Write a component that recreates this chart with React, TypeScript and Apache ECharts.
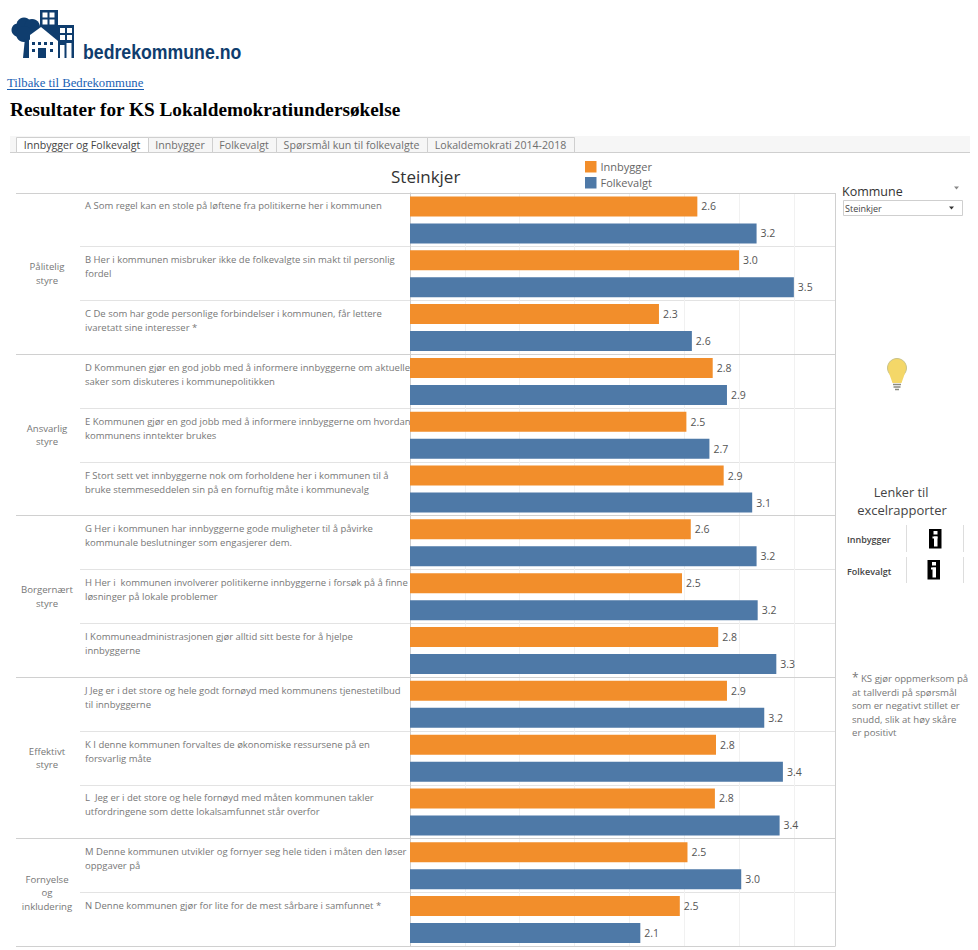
import React, { useEffect, useRef } from "react";
import * as echarts from "echarts";

const cityName = "Steinkjer";
const seriesNames = ["Innbygger", "Folkevalgt"];
const questions = [
  "A Som regel kan en stole på løftene fra politikerne her i kommunen",
  "B Her i kommunen misbruker ikke de folkevalgte sin makt til personlig\nfordel",
  "C De som har gode personlige forbindelser i kommunen, får lettere\nivaretatt sine interesser *",
  "D Kommunen gjør en god jobb med å informere innbyggerne om aktuelle\nsaker som diskuteres i kommunepolitikken",
  "E Kommunen gjør en god jobb med å informere innbyggerne om hvordan\nkommunens inntekter brukes",
  "F Stort sett vet innbyggerne nok om forholdene her i kommunen til å\nbruke stemmeseddelen sin på en fornuftig måte i kommunevalg",
  "G Her i kommunen har innbyggerne gode muligheter til å påvirke\nkommunale beslutninger som engasjerer dem.",
  "H Her i  kommunen involverer politikerne innbyggerne i forsøk på å finne\nløsninger på lokale problemer",
  "I Kommuneadministrasjonen gjør alltid sitt beste for å hjelpe\ninnbyggerne",
  "J Jeg er i det store og hele godt fornøyd med kommunens tjenestetilbud\ntil innbyggerne",
  "K I denne kommunen forvaltes de økonomiske ressursene på en\nforsvarlig måte",
  "L  Jeg er i det store og hele fornøyd med måten kommunen takler\nutfordringene som dette lokalsamfunnet står overfor",
  "M Denne kommunen utvikler og fornyer seg hele tiden i måten den løser\noppgaver på",
  "N Denne kommunen gjør for lite for de mest sårbare i samfunnet *",
];
const innbygger = [2.62, 3.0, 2.27, 2.76, 2.52, 2.86, 2.56, 2.48, 2.81, 2.89, 2.79, 2.78, 2.53, 2.46];
const folkevalgt = [3.16, 3.5, 2.57, 2.89, 2.73, 3.12, 3.16, 3.17, 3.34, 3.23, 3.4, 3.37, 3.02, 2.1];
const groupNames = ["Pålitelig\nstyre", "Ansvarlig\nstyre", "Borgernært\nstyre", "Effektivt\nstyre", "Fornyelse\nog\ninkludering"];
const groupSizes = [3, 3, 3, 3, 2];
const tabs = ["Innbygger og Folkevalgt", "Innbygger", "Folkevalgt", "Spørsmål kun til folkevalgte", "Lokaldemokrati 2014-2018"];
const tabEdges = [16, 148, 212, 276, 427, 574];
const noteLines = ["KS gjør oppmerksom på", "at tallverdi på spørsmål", "som er negativt stillet er", "snudd, slik at høy skåre", "er positivt"];

const ORANGE = "#f28e2b";
const BLUE = "#4e79a7";
const NAVY = "#0f3d6e";
const UI_FONT = '"Open Sans", sans-serif';
const PLOT = { left: 410, right: 835, top: 193, bottom: 946.5 };
const rowH = (PLOT.bottom - PLOT.top) / questions.length;

const txt = (text: string, x: number, y: number, font: string, fill: string, align = "left", z = 5) => ({
  type: "text", x, y, z,
  style: { text, font, fill, align, verticalAlign: "middle" },
});
const box = (x: number, y: number, w: number, h: number, fill: string, stroke?: string, z = 2) => ({
  type: "rect", z, shape: { x, y, width: w, height: h },
  style: stroke ? { fill, stroke, lineWidth: 1 } : { fill },
});
const seg = (x1: number, y1: number, x2: number, y2: number, stroke: string, z = 1, lineWidth = 1) => ({
  type: "line", z, shape: { x1, y1, x2, y2 }, style: { stroke, lineWidth },
});

function windows(x0: number, y0: number, cols: number, rows: number, size: number, step: number) {
  const out: any[] = [];
  for (let r = 0; r < rows; r++) for (let c = 0; c < cols; c++) {
    out.push(box(x0 + c * step, y0 + r * step, size, size, "#ffffff", undefined, 4));
  }
  return out;
}

function logo() {
  const items: any[] = [
    box(40, 10, 18, 36, NAVY, undefined, 3),
    ...windows(42.5, 12.5, 2, 2, 5, 7),
    box(50, 25, 24, 33, NAVY, undefined, 3),
    ...windows(60, 28, 2, 2, 5, 7),
    box(66.5, 43, 5, 15, "#ffffff", undefined, 4),
    box(60, 45, 4.5, 13, "#ffffff", undefined, 4),
    { type: "circle", z: 3, shape: { cx: 18, cy: 30, r: 6.5 }, style: { fill: NAVY } },
    { type: "circle", z: 3, shape: { cx: 24, cy: 25, r: 7.5 }, style: { fill: NAVY } },
    { type: "circle", z: 3, shape: { cx: 32, cy: 27, r: 8 }, style: { fill: NAVY } },
    { type: "circle", z: 3, shape: { cx: 24, cy: 34, r: 8 }, style: { fill: NAVY } },
    { type: "polygon", z: 3, shape: { points: [[23, 58], [25, 38], [29, 38], [29, 58]] }, style: { fill: NAVY } },
    { type: "polygon", z: 4, shape: { points: [[41, 27], [58, 41], [58, 58], [30, 58], [30, 35]] }, style: { fill: "#ffffff" } },
    box(32, 42, 3, 3, NAVY, undefined, 5), box(38, 42, 3, 3, NAVY, undefined, 5),
    box(44, 42, 3, 3, NAVY, undefined, 5), box(50, 42, 3, 3, NAVY, undefined, 5),
    box(32, 49, 3, 3, NAVY, undefined, 5), box(50, 49, 3, 3, NAVY, undefined, 5),
    box(38, 48, 8, 10, NAVY, undefined, 5),
  ];
  return items;
}

function infoIcon(x: number, y: number) {
  return [
    box(x, y, 12.5, 19.5, "#000000", undefined, 3),
    box(x + 4.5, y + 2, 4, 3.5, "#ffffff", undefined, 4),
    box(x + 3.5, y + 7.5, 5, 2, "#ffffff", undefined, 4),
    box(x + 5, y + 7.5, 3.5, 10, "#ffffff", undefined, 4),
  ];
}

function buildGraphic() {
  const els: any[] = [
    ...logo(),
    { ...txt("bedrekommune.no", 83, 52, 'bold 19.5px "Liberation Sans", sans-serif', NAVY), scaleX: 0.908 },
    txt("Tilbake til Bedrekommune", 7, 83, '12.7px "Liberation Serif", serif', "#1a5fb4"),
    seg(7, 89.5, 144, 89.5, "#1a5fb4"),
    txt("Resultater for KS Lokaldemokratiundersøkelse", 10, 109, 'bold 19.25px "Liberation Serif", serif', "#000000"),
    box(10, 136, 960, 16, "#f6f6f6", undefined, 0),
    seg(10, 152.5, 970, 152.5, "#cfcfcf", 1),
  ];
  tabs.forEach((t, i) => {
    const x0 = tabEdges[i], x1 = tabEdges[i + 1];
    els.push(box(x0 + 0.5, 137.5, x1 - x0, 15, i === 0 ? "#ffffff" : "#f6f6f6", "#cfcfcf", 2));
    els.push(txt(t, (x0 + x1) / 2, 145, `10.6px ${UI_FONT}`, i === 0 ? "#444444" : "#6f6f6f", "center"));
  });
  for (let i = 1; i < questions.length; i++) {
    const y = Math.floor(PLOT.top + i * rowH) + 0.5;
    els.push(seg(80, y, PLOT.right, y, "#e3e3e3", 0));
  }
  let start = 0;
  const groupEdges = [0];
  groupNames.forEach((g, i) => {
    const cy = PLOT.top + (start + groupSizes[i] / 2) * rowH;
    const lines = g.split("\n");
    lines.forEach((l, k) => {
      els.push(txt(l, 47, cy + (k - (lines.length - 1) / 2) * 13.5, `9.6px ${UI_FONT}`, "#777777", "center"));
    });
    start += groupSizes[i];
    groupEdges.push(start);
  });
  groupEdges.forEach((e) => {
    const y = Math.floor(PLOT.top + e * rowH) + 0.5;
    els.push(seg(16, y, PLOT.right, y, "#d0d0d0", 1));
  });
  els.push(seg(PLOT.right + 0.5, PLOT.top, PLOT.right + 0.5, PLOT.bottom, "#d0d0d0", 1));

  els.push(
    txt("Kommune", 842, 191, `12.5px ${UI_FONT}`, "#333333"),
    { type: "polygon", z: 3, shape: { points: [[954, 186.5], [959, 186.5], [956.5, 189.5]] }, style: { fill: "#888888" } },
    box(843.5, 200.5, 119, 15, "#ffffff", "#cfcfcf", 2),
    txt(cityName, 845, 208, `9px ${UI_FONT}`, "#444444"),
    { type: "polygon", z: 3, shape: { points: [[949, 206.5], [954, 206.5], [951.5, 209.5]] }, style: { fill: "#333333" } },
    { type: "circle", z: 3, shape: { cx: 897, cy: 368, r: 9.5 }, style: { fill: "#f4d768", stroke: "#c9c38a", lineWidth: 1 } },
    { type: "polygon", z: 3, shape: { points: [[889, 373], [905, 373], [901.5, 383], [892.5, 383]] }, style: { fill: "#f4d768" } },
    seg(893, 384.5, 901, 384.5, "#8a8a80", 3, 1.5),
    seg(893.5, 387, 900.5, 387, "#8a8a80", 3, 1.5),
    seg(895, 389.5, 899, 389.5, "#8a8a80", 3, 1.5),
    txt("Lenker til", 901, 492, `12.7px ${UI_FONT}`, "#444444", "center"),
    txt("excelrapporter", 902, 510, `13px ${UI_FONT}`, "#444444", "center"),
    txt("Innbygger", 847, 539, `600 9px ${UI_FONT}`, "#444444"),
    txt("Folkevalgt", 847, 571, `600 9px ${UI_FONT}`, "#444444"),
    seg(906.5, 525, 906.5, 552, "#dddddd"), seg(963.5, 525, 963.5, 552, "#dddddd"),
    seg(906.5, 557, 906.5, 583, "#dddddd"), seg(963.5, 557, 963.5, 583, "#dddddd"),
    ...infoIcon(929, 529), ...infoIcon(927.5, 560),
    txt("*", 852, 677, `12px ${UI_FONT}`, "#777777"),
  );
  noteLines.forEach((l, i) => {
    els.push(txt(l, i === 0 ? 861 : 852, 678.5 + i * 13.5, `9.6px ${UI_FONT}`, "#777777"));
  });
  return els;
}

const valueLabel = (color: string) => ({
  show: true, position: "right" as const, distance: 4, color, fontSize: 10.5, fontFamily: UI_FONT,
  formatter: (p: any) => Number(p.value).toFixed(1),
});

export default function App() {
  const ref = useRef<HTMLDivElement>(null);
  useEffect(() => {
    document.body.style.margin = "0";
    const chart = echarts.init(ref.current!, undefined, { renderer: "svg" });
    chart.setOption({
      animation: false,
      backgroundColor: "#ffffff",
      textStyle: { fontFamily: UI_FONT },
      title: {
        text: cityName, left: 386, top: 163,
        textStyle: { fontSize: 17, fontWeight: "normal", color: "#333333", fontFamily: UI_FONT },
      },
      legend: {
        left: 580, top: 156, orient: "vertical", itemWidth: 11.5, itemHeight: 11.5, itemGap: 4.5,
        icon: "rect", data: seriesNames,
        textStyle: { fontSize: 11, color: "#666666", fontFamily: UI_FONT, padding: [0, 0, 0, -1] },
      },
      grid: {
        left: PLOT.left, top: PLOT.top, width: PLOT.right - PLOT.left, height: PLOT.bottom - PLOT.top,
        containLabel: false,
      },
      xAxis: {
        type: "value", min: 0, max: 3.875, interval: 0.5,
        axisLabel: { show: false }, axisTick: { show: false }, axisLine: { show: false },
        splitLine: { show: true, lineStyle: { color: "#f1f1f1", width: 1 } },
      },
      yAxis: {
        type: "category", inverse: true, data: questions,
        axisTick: { show: false },
        axisLine: { show: true, lineStyle: { color: "#cfcfcf", width: 1 } },
        axisLabel: {
          show: true, interval: 0, margin: 325, align: "left", verticalAlign: "middle",
          color: "#777777", fontSize: 9.5, lineHeight: 14, fontFamily: UI_FONT,
          formatter: (v: string) => (v.includes("\n") ? v + "\n " : v + "\n \n "),
        },
      },
      series: [
        { name: seriesNames[0], type: "bar", data: innbygger, barWidth: 20, barGap: "35%", itemStyle: { color: ORANGE }, label: valueLabel("#555555"), z: 3 },
        { name: seriesNames[1], type: "bar", data: folkevalgt, barWidth: 20, barGap: "35%", itemStyle: { color: BLUE }, label: valueLabel("#555555"), z: 3 },
      ],
      graphic: { elements: buildGraphic() },
    });
    return () => chart.dispose();
  }, []);
  return <div ref={ref} style={{ position: "absolute", left: 0, top: 0, width: 978, height: 950 }} />;
}
